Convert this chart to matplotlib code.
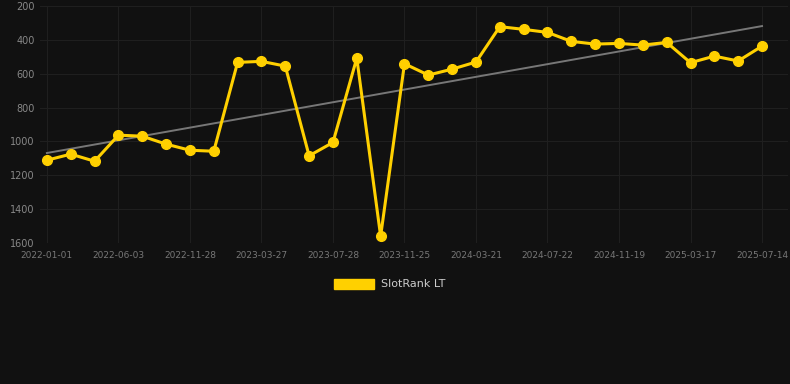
import matplotlib

matplotlib.use('Agg')
import numpy as np
import matplotlib.pyplot as plt
from matplotlib.patches import Patch

# rank values, one point per period (categorical x axis)
ranks = [1111, 1075, 1117, 963, 969, 1016, 1052, 1058, 533, 527, 555,
         1085, 1006, 508, 1560, 541, 608, 573, 531, 322, 338, 356,
         409, 425, 421, 431, 415, 535, 496, 525, 437]
tick_labels = ["2022-01-01", "2022-06-03", "2022-11-28", "2023-03-27",
               "2023-07-28", "2023-11-25", "2024-03-21", "2024-07-22",
               "2024-11-19", "2025-03-17", "2025-07-14"]
series_name = "SlotRank LT"

bg = "#111111"
gold = "#FFD000"

fig = plt.figure(figsize=(7.9, 3.84), dpi=100, facecolor=bg)
ax = fig.add_axes([40 / 790, 1 - 243 / 384, 748 / 790, 237 / 384])
ax.set_facecolor(bg)

x = np.arange(len(ranks))
coef = np.polyfit(x, ranks, 1)
ax.plot(x, np.polyval(coef, x), color="#777777", lw=1.4, zorder=2)
ax.plot(x, ranks, color=gold, lw=2.2, marker="o", ms=7, zorder=3)

ax.set_ylim(1600, 200)
ax.set_xlim(-0.29, len(ranks) - 1 + 1.09)
ax.set_yticks(range(200, 1601, 200))
ax.set_xticks(x[::3])
ax.set_xticklabels(tick_labels)
ax.grid(True, color="#1f1f1f", lw=0.8)
ax.set_axisbelow(True)
for s in ax.spines.values():
    s.set_visible(False)
ax.tick_params(axis="y", colors="#888888", labelsize=7, length=0, pad=4)
ax.tick_params(axis="x", colors="#777777", labelsize=6.5, length=0, pad=6)

fig.legend(handles=[Patch(facecolor=gold, edgecolor=gold)], labels=[series_name],
           loc="center", bbox_to_anchor=(0.5 - 5 / 790, 1 - 284 / 384), frameon=False,
           handlelength=3.6, handleheight=1.0, fontsize=8, labelcolor="#cccccc",
           handletextpad=0.6)

fig.savefig("out.png", dpi=100, facecolor=bg)
